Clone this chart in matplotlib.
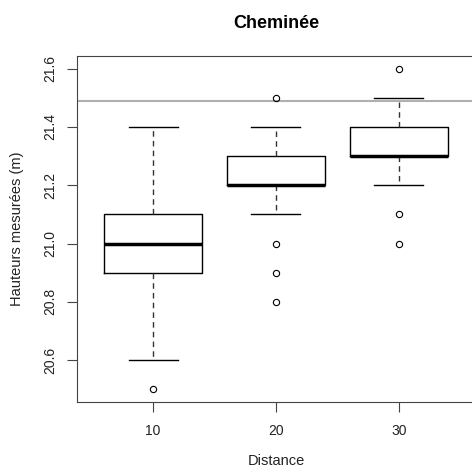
import matplotlib.pyplot as plt

plt.rcParams['font.family'] = ['Liberation Sans', 'DejaVu Sans']

# données
distances = ["10", "20", "30"]
q1 = [20.9, 21.2, 21.3]
medianes = [21.0, 21.2, 21.3]
q3 = [21.1, 21.3, 21.4]
moustache_bas = [20.6, 21.1, 21.2]
moustache_haut = [21.4, 21.4, 21.5]
aberrants = [[20.5], [21.5, 21.0, 20.9, 20.8], [21.6, 21.1, 21.0]]
hauteur_reelle = 21.49

stats = []
for i, d in enumerate(distances):
    stats.append({
        "label": d, "q1": q1[i], "med": medianes[i], "q3": q3[i],
        "whislo": moustache_bas[i], "whishi": moustache_haut[i],
        "fliers": aberrants[i],
    })

fig = plt.figure(figsize=(4.72, 4.73), dpi=100)
ax = fig.add_axes([0.163, 0.150, 0.843, 0.732])

ax.bxp(stats, positions=[1, 2, 3], widths=0.8,
       boxprops=dict(color="black", linewidth=1),
       medianprops=dict(color="black", linewidth=2.5),
       whiskerprops=dict(color="#333333", linewidth=1, linestyle=(0, (4, 3))),
       capprops=dict(color="black", linewidth=1),
       capwidths=0.4,
       flierprops=dict(marker="o", markerfacecolor="none", markeredgecolor="black",
                       markersize=4.5, markeredgewidth=0.8))

ax.axhline(hauteur_reelle, color="#b0b0b0", linewidth=1.5, zorder=0)

ax.set_xlim(0.38, 3.62)
ax.set_ylim(20.456, 21.644)
ax.set_yticks([20.6, 20.8, 21.0, 21.2, 21.4, 21.6])
ax.set_yticklabels(["20.6", "20.8", "21.0", "21.2", "21.4", "21.6"],
                   rotation=90, va="center")
ax.set_xticks([1, 2, 3])
ax.set_xticklabels(distances)
ax.tick_params(length=7, labelsize=10, color="#444444", labelcolor="#222222")
ax.tick_params(axis="x", pad=9)
ax.tick_params(axis="y", pad=7)

for s in ax.spines.values():
    s.set_color("#444444")

ax.set_title("Cheminée", fontsize=13, fontweight="bold", pad=20)
ax.set_xlabel("Distance", fontsize=10.5, labelpad=11, color="#222222")
ax.set_ylabel("Hauteurs mesurées (m)", fontsize=10.5, labelpad=14, color="#222222")

fig.savefig("out.png", dpi=100)
